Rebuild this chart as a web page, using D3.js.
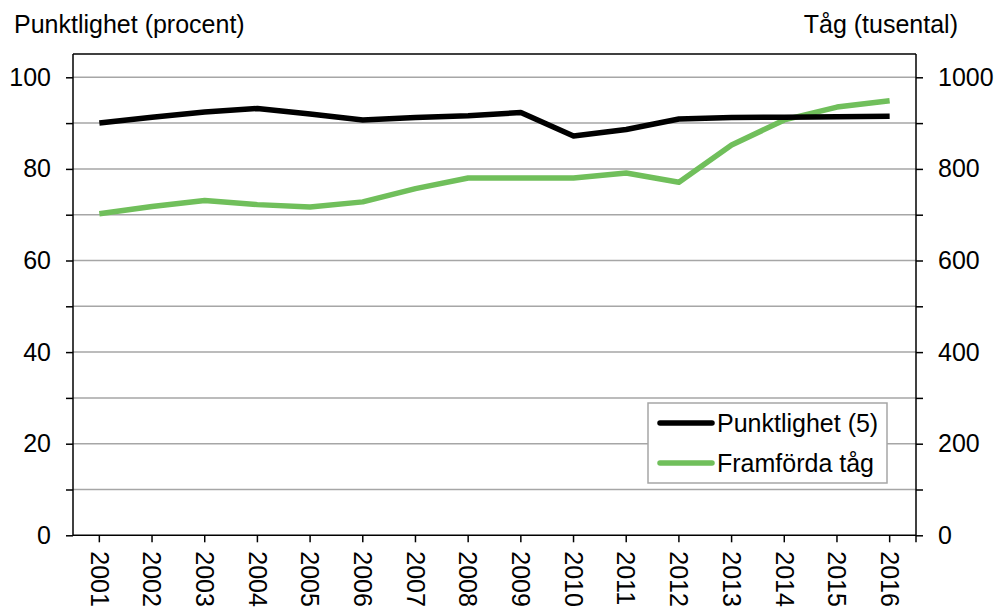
<!DOCTYPE html>
<html>
<head>
<meta charset="utf-8">
<script src="https://cdn.jsdelivr.net/npm/d3@7"></script>
<style>
  body { margin: 0; background: #fff; }
  text { font-family: "Liberation Sans", Arial, sans-serif; fill: #000; }
</style>
</head>
<body>
<svg id="chart" width="1000" height="608"></svg>
<script>
const years = ["2001","2002","2003","2004","2005","2006","2007","2008","2009","2010","2011","2012","2013","2014","2015","2016"];
const punktlighet = [90.0, 91.3, 92.4, 93.2, 92.0, 90.7, 91.2, 91.6, 92.3, 87.2, 88.6, 90.9, 91.2, 91.3, 91.4, 91.5];
const framfordaTag = [702, 718, 731, 722, 717, 728, 757, 780, 780, 780, 791, 771, 852, 907, 935, 949];
const leftTicks = [0, 20, 40, 60, 80, 100];
const rightTicks = [0, 200, 400, 600, 800, 1000];

const margin = { top: 54, left: 73, right: 84, bottom: 73 };
const fontSize = "25px";
const svg = d3.select("#chart");
const width = +svg.attr("width");
const innerWidth = width - margin.left - margin.right;

const x = d3.scaleBand().domain(years).range([margin.left, margin.left + innerWidth]);
const yLeft = d3.scaleLinear().domain([0, 100]).range([535.3, 77.3]);
const yRight = d3.scaleLinear().domain([0, 1000]).range([535.3, 77.3]);
const xc = (d) => x(d) + x.bandwidth() / 2;

// gridlines every 10
svg.append("g")
  .selectAll("line")
  .data(d3.range(10, 101, 10))
  .enter()
  .append("line")
  .attr("x1", margin.left)
  .attr("x2", margin.left + innerWidth)
  .attr("y1", (d) => yLeft(d))
  .attr("y2", (d) => yLeft(d))
  .attr("stroke", "#a6a6a6")
  .attr("stroke-width", 1.5);

// plot area border (top edge)
svg.append("line")
  .attr("x1", margin.left).attr("x2", margin.left + innerWidth)
  .attr("y1", margin.top).attr("y2", margin.top)
  .attr("stroke", "#000").attr("stroke-width", 1.5);

// left axis
const gl = svg.append("g").attr("transform", `translate(${margin.left},0)`)
  .call(d3.axisLeft(yLeft).tickValues(d3.range(0, 101, 10)).tickSize(7)
    .tickFormat((d) => leftTicks.includes(d) ? d : ""));
gl.select(".domain").attr("d", `M0,${margin.top}V${yLeft(0)}`);

// right axis
const gr = svg.append("g").attr("transform", `translate(${margin.left + innerWidth},0)`)
  .call(d3.axisRight(yRight).tickValues(d3.range(0, 1001, 100)).tickSize(7)
    .tickFormat((d) => rightTicks.includes(d) ? d : ""));
gr.select(".domain").attr("d", `M0,${margin.top}V${yRight(0)}`);

// bottom axis, ticks at category centers
const gb = svg.append("g").attr("transform", `translate(0,${yLeft(0)})`)
  .call(d3.axisBottom(x).tickSize(7));
gb.select(".domain").attr("d", `M${margin.left},0H${margin.left + innerWidth}`);
gb.append("line").attr("x1", margin.left + innerWidth).attr("x2", margin.left + innerWidth)
  .attr("y1", 0).attr("y2", 7).attr("stroke", "#000").attr("stroke-width", 1.5);

[gl, gr, gb].forEach((g) => {
  g.selectAll(".domain, .tick line").attr("stroke", "#000").attr("stroke-width", 1.5);
  g.selectAll(".tick text").style("font-size", fontSize).style("font-family", "Liberation Sans, Arial, sans-serif");
});
gl.selectAll(".tick text").attr("x", -22);
gr.selectAll(".tick text").attr("x", 22);
gb.selectAll(".tick text")
  .attr("transform", "rotate(90)")
  .attr("x", 16).attr("y", 0).attr("dy", "0.35em")
  .attr("text-anchor", "start");

// lines
const lineLeft = d3.line().x((d, i) => xc(years[i])).y((d) => yLeft(d));
const lineRight = d3.line().x((d, i) => xc(years[i])).y((d) => yRight(d));

svg.append("path").datum(framfordaTag)
  .attr("d", lineRight).attr("fill", "none")
  .attr("stroke", "#70bf5b").attr("stroke-width", 5.5).attr("stroke-linejoin", "round");
svg.append("path").datum(punktlighet)
  .attr("d", lineLeft).attr("fill", "none")
  .attr("stroke", "#000").attr("stroke-width", 5.5).attr("stroke-linejoin", "round");

// axis titles
svg.append("text").attr("x", 14).attr("y", 33).style("font-size", fontSize).text("Punktlighet (procent)");
svg.append("text").attr("x", 958).attr("y", 33).attr("text-anchor", "end").style("font-size", fontSize).text("Tåg (tusental)");

// legend
const legend = svg.append("g");
legend.append("rect").attr("x", 648).attr("y", 403).attr("width", 239).attr("height", 80)
  .attr("fill", "#fff").attr("stroke", "#a6a6a6").attr("stroke-width", 1.5);
const legendItems = [
  { name: "Punktlighet (5)", color: "#000" },
  { name: "Framförda tåg", color: "#70bf5b" }
];
legendItems.forEach((d, i) => {
  const y = 423 + i * 40;
  legend.append("line").attr("x1", 660).attr("x2", 712).attr("y1", y).attr("y2", y)
    .attr("stroke", d.color).attr("stroke-width", 5.5).attr("stroke-linecap", "round");
  legend.append("text").attr("x", 717).attr("y", y + 9).style("font-size", fontSize).text(d.name);
});
</script>
</body>
</html>
